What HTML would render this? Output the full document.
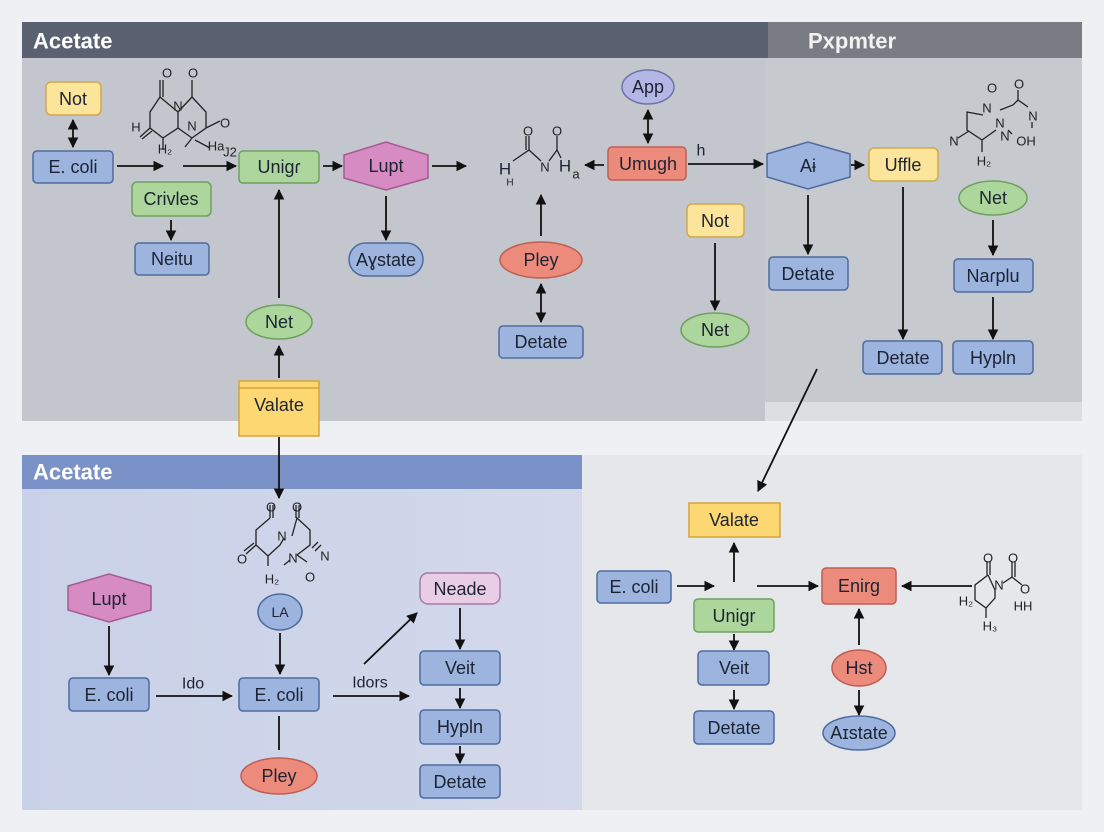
<!DOCTYPE html>
<html><head><meta charset="utf-8"><style>
html,body{margin:0;padding:0;background:#eef0f3;}
svg{display:block;font-family:"Liberation Sans",sans-serif;}
.t{font-size:18px;fill:#1c2333;text-anchor:middle;dominant-baseline:central;}
.m{font-size:13px;fill:#222;text-anchor:middle;dominant-baseline:central;}
.l{stroke:#111;stroke-width:1.8;fill:none;}
.b{fill:#9cb4de;stroke:#4e6b9f;stroke-width:1.5;}
.g{fill:#acd69c;stroke:#6f9f60;stroke-width:1.5;}
.y{fill:#fde49b;stroke:#d2a84c;stroke-width:1.5;}
.yy{fill:#fdd872;stroke:#d4a43c;stroke-width:1.5;}
.p{fill:#d68bc3;stroke:#a55a92;stroke-width:1.5;}
.r{fill:#ec8b7b;stroke:#bd5f51;stroke-width:1.5;}
.pu{fill:#b4b7e6;stroke:#6f72a8;stroke-width:1.5;}
.lp{fill:#e9cde7;stroke:#a97aa4;stroke-width:1.5;}
.ml{stroke:#222;stroke-width:1.3;fill:none;}
</style></head><body>
<svg width="1104" height="832" viewBox="0 0 1104 832" xmlns="http://www.w3.org/2000/svg">
<defs>
<marker id="a" viewBox="0 0 10 10" refX="9" refY="5" markerWidth="6" markerHeight="6" orient="auto-start-reverse"><path d="M0,0 L10,5 L0,10 z" fill="#111"/></marker>
<linearGradient id="bl" x1="0" x2="1"><stop offset="0" stop-color="#c9d1e8"/><stop offset="1" stop-color="#d3d9ea"/></linearGradient>
</defs>
<rect x="22" y="57" width="745" height="364" fill="#c3c6cd"/>
<rect x="765" y="57" width="317" height="345" fill="#c6c9ce"/>
<rect x="765" y="402" width="317" height="19" fill="#dcdee2"/>
<rect x="22" y="22" width="747" height="36" fill="#5a6272"/>
<rect x="768" y="22" width="314" height="36" fill="#797c82"/>
<text x="33" y="41" style="font-size:22px;font-weight:bold;fill:#fff;dominant-baseline:central">Acetate</text>
<text x="808" y="41" style="font-size:22px;font-weight:bold;fill:#f2f2f2;dominant-baseline:central">Pxpmter</text>
<rect x="22" y="489" width="560" height="321" fill="url(#bl)"/>
<rect x="22" y="455" width="560" height="34" fill="#7a92c7"/>
<text x="33" y="472" style="font-size:22px;font-weight:bold;fill:#fff;dominant-baseline:central">Acetate</text>
<rect x="582" y="455" width="500" height="355" fill="#e5e7eb"/>

<rect class="y" x="46" y="82" width="55" height="33" rx="5"/><text class="t" x="73" y="99">Not</text>
<line class="l" x1="73" y1="120" x2="73" y2="147" marker-start="url(#a)" marker-end="url(#a)"/>
<rect class="b" x="33" y="151" width="80" height="32" rx="4"/><text class="t" x="73" y="167">E. coli</text>
<line class="l" x1="117" y1="166" x2="163" y2="166" marker-end="url(#a)"/>
<line class="l" x1="183" y1="166" x2="236" y2="166" marker-end="url(#a)"/>
<g>
<path class="ml" d="M160,97 L150,112 L150,128 L163,138 L178,128 L178,112 L160,97 M160,97 L160,80 M163,80 L163,97 M178,112 L192,97 L206,112 L206,128 L192,138 L178,128 M192,97 L192,80 M206,128 L220,121 M163,138 L163,150 M150,128 L140,137 M152,131 L142,139 M192,138 L185,147 M195,140 L210,148"/>
<text class="m" x="167" y="73">O</text><text class="m" x="193" y="73">O</text>
<text class="m" x="178" y="106">N</text><text class="m" x="192" y="126">N</text>
<text class="m" x="225" y="123">O</text><text class="m" x="136" y="127">H</text>
<text class="m" x="165" y="149">H₂</text><text class="m" x="216" y="146">Ha</text><text class="m" x="230" y="152">J2</text>
</g>
<rect class="g" x="132" y="182" width="79" height="34" rx="5"/><text class="t" x="171" y="199">Crivles</text>
<line class="l" x1="171" y1="220" x2="171" y2="240" marker-end="url(#a)"/>
<rect class="b" x="135" y="243" width="74" height="32" rx="4"/><text class="t" x="172" y="259">Neitu</text>

<rect class="g" x="239" y="151" width="80" height="32" rx="4"/><text class="t" x="279" y="167">Unigɾ</text>
<line class="l" x1="323" y1="166" x2="342" y2="166" marker-end="url(#a)"/>
<polygon class="p" points="344,155 386,142 428,155 428,178 386,190 344,178"/>
<text class="t" x="386" y="166">Lupt</text>
<line class="l" x1="432" y1="166" x2="466" y2="166" marker-end="url(#a)"/>
<line class="l" x1="386" y1="196" x2="386" y2="240" marker-end="url(#a)"/>
<rect class="b" x="349" y="243" width="74" height="33" rx="16.5"/><text class="t" x="386" y="260">Aɣstate</text>
<path class="ml" d="M513,161 L529,150 L541,161 M549,161 L557,150 L561,158 M529,150 L529,136 M526,150 L526,136 M557,150 L557,136"/>
<text class="m" x="528" y="131">O</text><text class="m" x="557" y="131">O</text>
<text class="m" x="545" y="167">N</text><text class="t" x="505" y="169" style="font-size:17px">H</text>
<text class="m" x="510" y="183" style="font-size:10px">H</text><text class="t" x="565" y="166" style="font-size:17px">H</text><text class="m" x="576" y="174">a</text>

<line class="l" x1="279" y1="298" x2="279" y2="190" marker-end="url(#a)"/>
<ellipse class="g" cx="279" cy="322" rx="33" ry="17"/><text class="t" x="279" y="322">Net</text>
<line class="l" x1="279" y1="378" x2="279" y2="346" marker-end="url(#a)"/>
<rect class="yy" x="239" y="381" width="80" height="55"/><line x1="239" y1="388" x2="319" y2="388" stroke="#d4a43c" stroke-width="1.5"/>
<text class="t" x="279" y="405">Valate</text>
<line class="l" x1="279" y1="437" x2="279" y2="498" marker-end="url(#a)"/>

<line class="l" x1="541" y1="236" x2="541" y2="195" marker-end="url(#a)"/>
<ellipse class="r" cx="541" cy="260" rx="41" ry="18"/><text class="t" x="541" y="260">Pley</text>
<line class="l" x1="541" y1="284" x2="541" y2="322" marker-start="url(#a)" marker-end="url(#a)"/>
<rect class="b" x="499" y="326" width="84" height="32" rx="4"/><text class="t" x="541" y="342">Detate</text>

<ellipse class="pu" cx="648" cy="87" rx="26" ry="17"/><text class="t" x="648" y="87">App</text>
<line class="l" x1="648" y1="110" x2="648" y2="143" marker-start="url(#a)" marker-end="url(#a)"/>
<rect class="r" x="608" y="147" width="78" height="33" rx="4"/><text class="t" x="648" y="164">Umugh</text>
<line class="l" x1="604" y1="165" x2="585" y2="165" marker-end="url(#a)"/>
<text class="t" x="701" y="151" style="font-size:16px">h</text>
<line class="l" x1="688" y1="164" x2="763" y2="164" marker-end="url(#a)"/>
<rect class="y" x="687" y="204" width="57" height="33" rx="5"/><text class="t" x="715" y="221">Not</text>
<line class="l" x1="715" y1="243" x2="715" y2="310" marker-end="url(#a)"/>
<ellipse class="g" cx="715" cy="330" rx="34" ry="17"/><text class="t" x="715" y="330">Net</text>

<polygon class="b" points="767,154 808,142 850,154 850,177 808,189 767,177"/><text class="t" x="808" y="166">Aɨ</text>
<line class="l" x1="851" y1="165" x2="864" y2="165" marker-end="url(#a)"/>
<rect class="y" x="869" y="148" width="69" height="33" rx="5"/><text class="t" x="903" y="165">Uffle</text>
<line class="l" x1="808" y1="195" x2="808" y2="254" marker-end="url(#a)"/>
<rect class="b" x="769" y="257" width="79" height="33" rx="4"/><text class="t" x="808" y="274">Detate</text>
<line class="l" x1="903" y1="187" x2="903" y2="339" marker-end="url(#a)"/>
<rect class="b" x="863" y="341" width="79" height="33" rx="4"/><text class="t" x="903" y="358">Detate</text>
<path class="ml" d="M983,115 L967,112 L967,130 L982,140 L996,130 M969,131 L958,138 M982,140 L982,152 M1000,110 L1013,105 L1018,100 L1028,107 M1018,100 L1018,90 M1008,130 L1012,134 M1032,122 L1032,128"/>
<text class="m" x="992" y="88">O</text><text class="m" x="1019" y="84">O</text>
<text class="m" x="987" y="108">N</text><text class="m" x="1000" y="123">N</text>
<text class="m" x="1033" y="116">N</text><text class="m" x="1005" y="136">N</text><text class="m" x="1026" y="141">OH</text>
<text class="m" x="954" y="141">N</text><text class="m" x="984" y="161">H₂</text>
<ellipse class="g" cx="993" cy="198" rx="34" ry="17"/><text class="t" x="993" y="198">Net</text>
<line class="l" x1="993" y1="220" x2="993" y2="255" marker-end="url(#a)"/>
<rect class="b" x="954" y="259" width="79" height="33" rx="4"/><text class="t" x="993" y="276">Naɾplu</text>
<line class="l" x1="993" y1="297" x2="993" y2="339" marker-end="url(#a)"/>
<rect class="b" x="953" y="341" width="80" height="33" rx="4"/><text class="t" x="993" y="358">Hypln</text>
<line class="l" x1="817" y1="369" x2="758" y2="491" marker-end="url(#a)"/>

<path class="ml" d="M270,518 L270,505 M273,518 L273,505 M270,518 L256,530 L256,545 L268,556 L280,545 L284,538 M292,536 L297,518 L310,530 L310,545 L297,555 M296,518 L296,505 M299,518 L299,505 M256,545 L246,554 M254,543 L244,551 M268,556 L268,566 M290,560 L284,565 M297,555 L307,562 M312,548 L318,542 M315,551 L321,545"/>
<text class="m" x="271" y="507">O</text><text class="m" x="297" y="507">O</text>
<text class="m" x="282" y="536">N</text><text class="m" x="293" y="558">N</text>
<text class="m" x="242" y="559">O</text><text class="m" x="310" y="577">O</text>
<text class="m" x="325" y="556">N</text><text class="m" x="272" y="579">H₂</text>

<polygon class="p" points="68,586 109,574 151,586 151,610 109,622 68,610"/><text class="t" x="109" y="599">Lupt</text>
<line class="l" x1="109" y1="626" x2="109" y2="675" marker-end="url(#a)"/>
<rect class="b" x="69" y="678" width="80" height="33" rx="4"/><text class="t" x="109" y="695">E. coli</text>
<text class="t" x="193" y="684" style="font-size:16px">Ido</text>
<line class="l" x1="156" y1="696" x2="232" y2="696" marker-end="url(#a)"/>
<ellipse class="b" cx="280" cy="612" rx="22" ry="18"/><text class="t" x="280" y="612" style="font-size:14px">LA</text>
<line class="l" x1="280" y1="633" x2="280" y2="674" marker-end="url(#a)"/>
<rect class="b" x="239" y="678" width="80" height="33" rx="4"/><text class="t" x="279" y="695">E. coli</text>
<line class="l" x1="279" y1="716" x2="279" y2="750"/>
<ellipse class="r" cx="279" cy="776" rx="38" ry="18"/><text class="t" x="279" y="776">Pley</text>
<text class="t" x="370" y="683" style="font-size:16px">Idors</text>
<line class="l" x1="333" y1="696" x2="409" y2="696" marker-end="url(#a)"/>
<line class="l" x1="364" y1="664" x2="417" y2="613" marker-end="url(#a)"/>
<rect class="lp" x="420" y="573" width="80" height="31" rx="8"/><text class="t" x="460" y="589">Neade</text>
<line class="l" x1="460" y1="608" x2="460" y2="649" marker-end="url(#a)"/>
<rect class="b" x="420" y="651" width="80" height="34" rx="4"/><text class="t" x="460" y="668">Veit</text>
<line class="l" x1="460" y1="688" x2="460" y2="708" marker-end="url(#a)"/>
<rect class="b" x="420" y="710" width="80" height="34" rx="4"/><text class="t" x="460" y="727">Hypln</text>
<line class="l" x1="460" y1="746" x2="460" y2="763" marker-end="url(#a)"/>
<rect class="b" x="420" y="765" width="80" height="33" rx="4"/><text class="t" x="460" y="782">Detate</text>

<rect class="yy" x="689" y="503" width="91" height="34"/><text class="t" x="734" y="520">Valate</text>
<line class="l" x1="734" y1="582" x2="734" y2="543" marker-end="url(#a)"/>
<rect class="b" x="597" y="571" width="74" height="32" rx="4"/><text class="t" x="634" y="587">E. coli</text>
<line class="l" x1="677" y1="586" x2="714" y2="586" marker-end="url(#a)"/>
<line class="l" x1="757" y1="586" x2="818" y2="586" marker-end="url(#a)"/>
<rect class="g" x="694" y="599" width="80" height="33" rx="4"/><text class="t" x="734" y="616">Unigr</text>
<line class="l" x1="734" y1="634" x2="734" y2="650" marker-end="url(#a)"/>
<rect class="b" x="698" y="651" width="71" height="34" rx="4"/><text class="t" x="734" y="668">Veit</text>
<line class="l" x1="734" y1="690" x2="734" y2="709" marker-end="url(#a)"/>
<rect class="b" x="694" y="711" width="80" height="33" rx="4"/><text class="t" x="734" y="728">Detate</text>
<rect class="r" x="822" y="568" width="74" height="36" rx="4"/><text class="t" x="859" y="586">Enirg</text>
<line class="l" x1="972" y1="586" x2="902" y2="586" marker-end="url(#a)"/>
<line class="l" x1="859" y1="645" x2="859" y2="609" marker-end="url(#a)"/>
<ellipse class="r" cx="859" cy="668" rx="27" ry="18"/><text class="t" x="859" y="668">Hst</text>
<line class="l" x1="859" y1="690" x2="859" y2="715" marker-end="url(#a)"/>
<ellipse class="b" cx="859" cy="733" rx="36" ry="17"/><text class="t" x="859" y="733">Aɪstate</text>
<path class="ml" d="M987,575 L987,561 M990,575 L990,561 M988,575 L975,585 L975,600 L986,608 L995,598 L995,590 L988,575 M986,608 L986,618 M1003,583 L1012,577 L1012,562 M1015,577 L1015,562 M1012,577 L1022,585"/>
<text class="m" x="988" y="558">O</text><text class="m" x="1013" y="558">O</text>
<text class="m" x="999" y="585">N</text><text class="m" x="1025" y="589">O</text>
<text class="m" x="1023" y="606">HH</text><text class="m" x="966" y="601">H₂</text><text class="m" x="990" y="626">H₃</text>
</svg>
</body></html>
